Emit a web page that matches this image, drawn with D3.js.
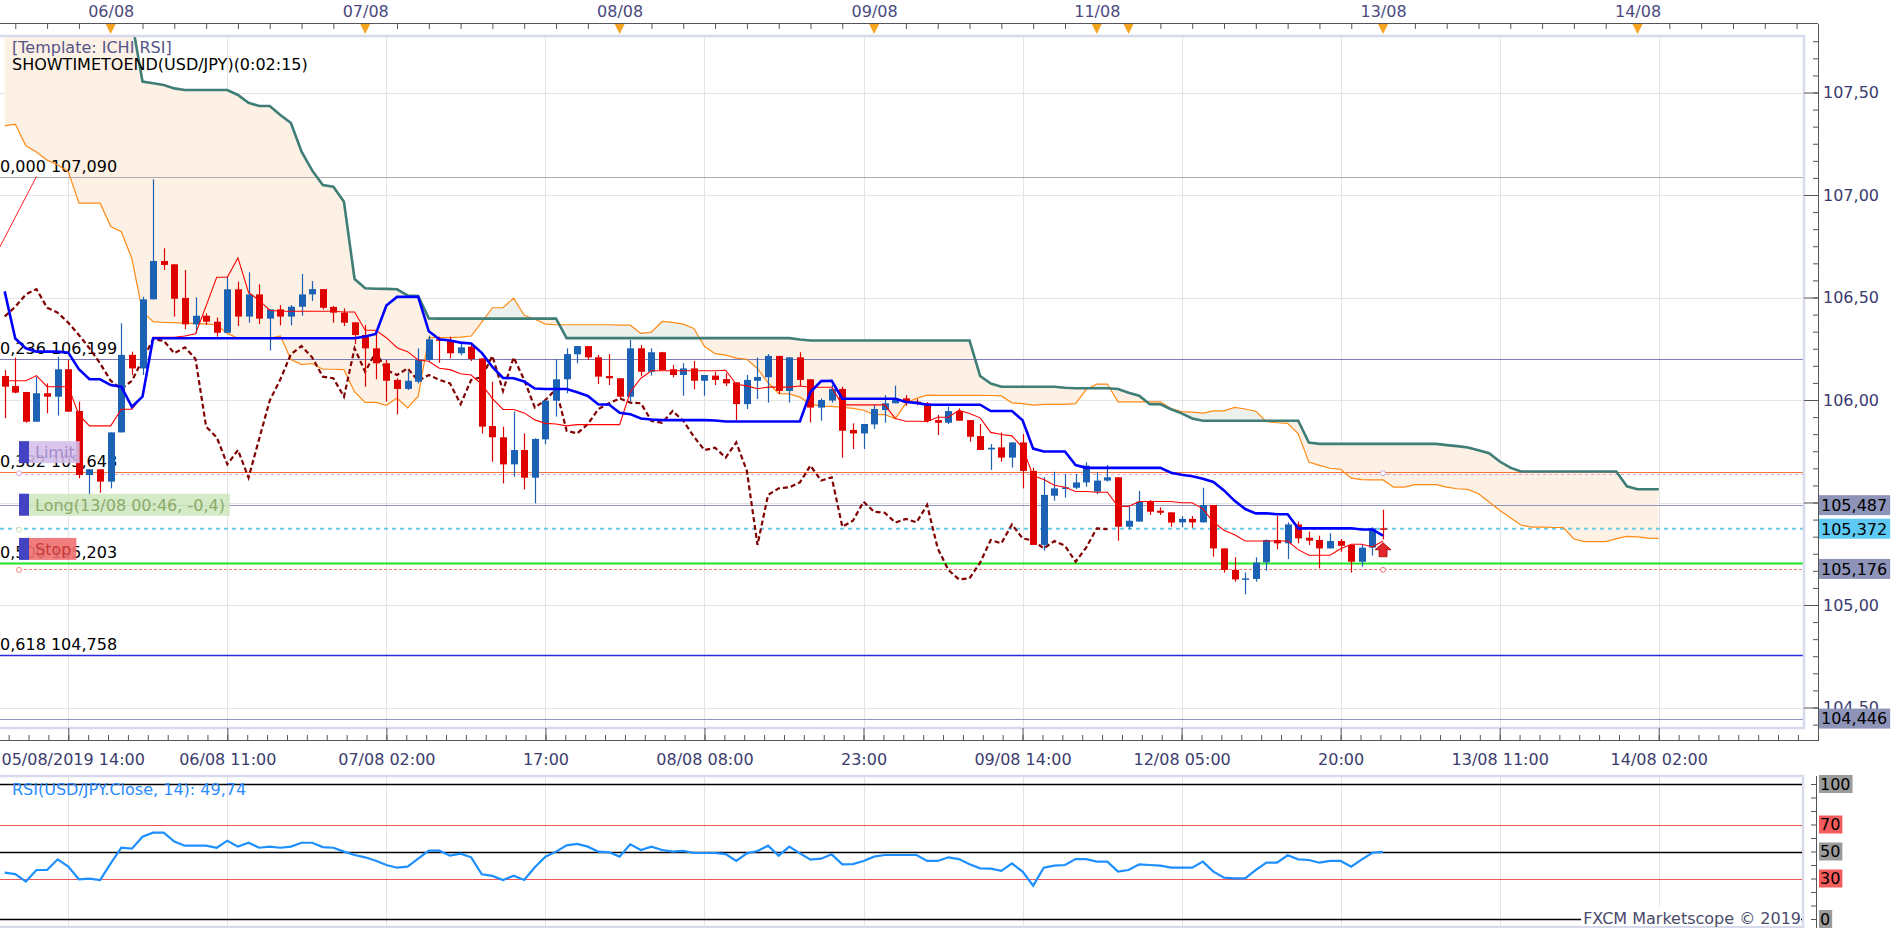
<!DOCTYPE html>
<html lang="en">
<head>
<meta charset="utf-8">
<title>USD/JPY - ICHI RSI</title>
<script src="https://cdn.jsdelivr.net/npm/d3@7/dist/d3.min.js"></script>
<style>
body { margin: 0; background: #fff; }
svg { display: block; font-family: "DejaVu Sans", Verdana, sans-serif; }
</style>
</head>
<body>
<div id="chart"></div>
<script>

// bar index 0 = 06/08 00:00, one bar per hour (weekend hours skipped)
var firstBar = -10;

var opens = [
106.117,106.068,106.039,105.894,106.033,106.016,106.150,105.946,105.634,105.662,
105.602,105.842,106.220,106.154,106.491,106.678,106.662,106.498,106.369,106.411,
106.382,106.328,106.540,106.407,106.515,106.397,106.442,106.407,106.455,106.515,
106.541,106.454,106.426,106.379,106.317,106.252,106.179,106.098,106.054,106.089,
106.195,106.296,106.289,106.228,106.260,106.203,105.873,105.818,105.686,105.756,
105.621,105.808,105.997,106.101,106.223,106.263,106.208,106.117,106.106,106.016,
106.252,106.138,106.233,106.150,106.122,106.154,106.094,106.119,106.102,106.086,
105.980,106.094,106.111,106.215,106.044,106.208,106.101,105.963,105.997,106.054,
105.854,105.837,105.881,105.951,105.984,106.008,105.992,105.984,105.902,105.889,
105.946,105.902,105.824,105.759,105.769,105.719,105.793,105.654,105.293,105.533,
105.566,105.572,105.598,105.553,105.607,105.623,105.382,105.407,105.504,105.460,
105.452,105.403,105.420,105.403,105.488,105.276,105.171,105.124,105.127,105.208,
105.317,105.301,105.393,105.328,105.317,105.276,105.312,105.293,105.211,105.280,
105.374];
var highs = [
106.146,106.207,106.040,106.114,106.081,106.211,106.195,105.992,105.662,105.662,
105.842,106.374,106.236,106.504,107.076,106.740,106.662,106.634,106.501,106.423,
106.402,106.605,106.577,106.623,106.564,106.442,106.463,106.463,106.615,106.580,
106.541,106.459,106.447,106.379,106.366,106.325,106.195,106.106,106.138,106.252,
106.314,106.309,106.309,106.276,106.270,106.203,106.089,105.870,105.943,105.837,
105.813,105.997,106.198,106.252,106.263,106.263,106.220,106.224,106.106,106.293,
106.268,106.252,106.235,106.171,106.179,106.190,106.122,106.138,106.130,106.086,
106.122,106.207,106.224,106.215,106.208,106.233,106.101,106.008,106.073,106.065,
105.886,105.883,105.976,106.024,106.070,106.024,106.005,105.990,105.927,105.967,
105.959,105.902,105.883,105.785,105.842,105.793,105.834,105.670,105.623,105.650,
105.639,105.639,105.696,105.647,105.683,105.623,105.480,105.556,105.512,105.476,
105.452,105.434,105.434,105.572,105.488,105.276,105.233,105.159,105.233,105.320,
105.434,105.403,105.407,105.358,105.338,105.350,105.322,105.293,105.293,105.379,
105.465];
var lows = [
105.911,106.033,105.890,105.894,105.935,105.924,105.943,105.618,105.537,105.548,
105.569,105.842,106.122,106.122,106.491,106.634,106.407,106.345,106.325,106.366,
106.309,106.328,106.361,106.377,106.371,106.242,106.364,106.364,106.411,106.483,
106.442,106.377,106.361,106.273,106.065,106.101,105.992,105.930,106.049,106.081,
106.187,106.182,106.203,106.218,106.190,105.837,105.699,105.593,105.626,105.564,
105.496,105.784,105.919,106.033,106.179,106.195,106.078,106.073,106.008,105.992,
106.117,106.119,106.146,106.111,106.021,106.052,106.021,106.073,106.068,105.902,
105.956,106.005,105.987,106.029,105.987,106.068,105.891,105.899,105.987,105.719,
105.761,105.761,105.859,105.889,105.984,105.972,105.975,105.890,105.829,105.883,
105.899,105.797,105.756,105.659,105.699,105.670,105.569,105.293,105.265,105.509,
105.524,105.566,105.577,105.541,105.602,105.314,105.369,105.407,105.439,105.439,
105.382,105.379,105.377,105.403,105.236,105.158,105.114,105.052,105.114,105.167,
105.272,105.224,105.301,105.293,105.179,105.276,105.260,105.158,105.187,105.241,
105.320];
var closes = [
106.065,106.036,105.894,106.033,106.016,106.150,105.943,105.634,105.662,105.602,
105.842,106.220,106.154,106.491,106.678,106.659,106.494,106.369,106.411,106.382,
106.328,106.540,106.407,106.515,106.397,106.442,106.407,106.455,106.515,106.541,
106.450,106.426,106.377,106.317,106.252,106.179,106.094,106.054,106.094,106.195,
106.296,106.289,106.228,106.257,106.200,105.870,105.818,105.686,105.756,105.621,
105.810,105.997,106.101,106.224,106.263,106.208,106.114,106.106,106.016,106.252,
106.138,106.233,106.146,106.122,106.154,106.094,106.122,106.098,106.081,105.980,
106.098,106.112,106.215,106.044,106.208,106.098,105.963,106.000,106.054,105.850,
105.837,105.883,105.956,105.984,106.008,105.987,105.984,105.898,105.889,105.946,
105.899,105.821,105.756,105.767,105.719,105.793,105.654,105.293,105.537,105.569,
105.574,105.598,105.680,105.607,105.623,105.382,105.411,105.504,105.455,105.450,
105.402,105.420,105.403,105.488,105.276,105.171,105.125,105.130,105.207,105.317,
105.301,105.393,105.325,105.314,105.276,105.312,105.289,105.211,105.280,105.374,
105.370];

var tenkan = [
106.094,106.094,106.094,106.119,106.065,106.065,106.065,105.927,105.874,105.874,
105.874,105.955,105.955,106.021,106.306,106.306,106.306,106.312,106.323,106.459,
106.599,106.599,106.693,106.525,106.486,106.438,106.433,106.433,106.433,106.433,
106.433,106.433,106.429,106.429,106.340,106.340,106.304,106.255,106.236,106.195,
106.189,106.155,106.148,106.128,106.122,106.076,106.007,105.954,105.954,105.937,
105.903,105.886,105.883,105.874,105.880,105.880,105.880,105.880,105.880,106.039,
106.106,106.143,106.143,106.143,106.143,106.143,106.143,106.143,106.145,106.077,
106.069,106.055,106.063,106.063,106.063,106.068,106.062,106.062,106.062,105.976,
105.976,105.976,105.976,105.976,105.910,105.896,105.896,105.895,105.916,105.916,
105.950,105.934,105.913,105.842,105.832,105.825,105.768,105.630,105.612,105.584,
105.574,105.554,105.554,105.550,105.550,105.481,105.481,105.505,105.505,105.505,
105.505,105.499,105.499,105.469,105.404,105.365,105.343,105.312,105.312,105.312,
105.312,105.312,105.270,105.243,105.243,105.243,105.274,105.296,105.296,105.283,
105.312];
var kijun = [
106.530,106.300,106.252,106.236,106.236,106.236,106.231,106.150,106.101,106.101,
106.073,106.065,105.967,106.016,106.301,106.301,106.301,106.301,106.301,106.301,
106.301,106.301,106.301,106.301,106.301,106.301,106.301,106.301,106.301,106.301,
106.301,106.301,106.301,106.301,106.310,106.322,106.461,106.503,106.503,106.503,
106.335,106.296,106.290,106.280,106.276,106.230,106.161,106.108,106.106,106.090,
106.056,106.054,106.054,106.054,106.038,106.020,105.978,105.978,105.938,105.931,
105.910,105.905,105.902,105.902,105.902,105.902,105.902,105.900,105.895,105.895,
105.895,105.895,105.895,105.895,105.895,105.895,106.039,106.092,106.094,106.006,
106.006,106.006,106.006,106.006,106.006,105.990,105.986,105.977,105.977,105.977,
105.977,105.977,105.977,105.946,105.946,105.946,105.901,105.763,105.749,105.749,
105.749,105.683,105.669,105.669,105.669,105.669,105.669,105.669,105.669,105.669,
105.645,105.635,105.628,105.616,105.600,105.559,105.508,105.468,105.447,105.447,
105.443,105.443,105.374,105.374,105.374,105.374,105.374,105.374,105.368,105.368,
105.338];

// leading spans, bars -10 .. 146
var senkouA = [
107.337,107.346,107.240,107.210,107.170,107.146,107.114,106.960,106.960,106.960,
106.846,106.821,106.690,106.430,106.382,106.378,106.377,106.375,106.373,106.371,
106.366,106.325,106.301,106.301,106.301,106.301,106.312,106.197,106.173,106.178,
106.150,106.150,106.148,106.039,105.988,105.988,105.974,106.010,105.961,106.019,
106.304,106.304,106.304,106.307,106.312,106.380,106.450,106.450,106.497,106.413,
106.394,106.370,106.367,106.367,106.367,106.367,106.367,106.367,106.365,106.365,
106.325,106.331,106.383,106.379,106.370,106.349,106.262,106.226,106.219,106.204,
106.199,106.153,106.084,106.031,106.030,106.014,105.980,105.970,105.969,105.964,
105.959,105.950,105.929,105.929,105.909,105.985,106.008,106.024,106.023,106.023,
106.023,106.023,106.023,106.022,106.020,105.986,105.982,105.975,105.979,105.979,
105.979,105.982,106.051,106.077,106.078,105.991,105.991,105.991,105.991,105.991,
105.958,105.943,105.941,105.936,105.947,105.947,105.964,105.956,105.945,105.894,
105.889,105.886,105.835,105.697,105.681,105.667,105.662,105.619,105.612,105.610,
105.610,105.575,105.575,105.587,105.587,105.587,105.575,105.567,105.564,105.543,
105.502,105.462,105.426,105.390,105.380,105.380,105.378,105.378,105.322,105.309,
105.309,105.309,105.324,105.335,105.332,105.326,105.325];
var senkouB = [
108.000,108.000,108.000,108.000,108.000,108.000,108.000,108.000,108.000,108.000,
108.000,107.950,107.850,107.553,107.545,107.537,107.520,107.512,107.512,107.512,
107.512,107.512,107.488,107.450,107.434,107.434,107.390,107.351,107.211,107.120,
107.049,107.040,106.967,106.590,106.545,106.543,106.542,106.540,106.510,106.507,
106.398,106.397,106.397,106.397,106.397,106.397,106.397,106.397,106.397,106.397,
106.397,106.397,106.397,106.302,106.302,106.302,106.302,106.302,106.302,106.302,
106.302,106.302,106.302,106.302,106.302,106.302,106.302,106.302,106.302,106.302,
106.302,106.302,106.302,106.302,106.302,106.295,106.290,106.290,106.290,106.290,
106.290,106.290,106.290,106.290,106.290,106.290,106.290,106.290,106.290,106.290,
106.290,106.290,106.117,106.080,106.065,106.065,106.065,106.065,106.065,106.065,
106.060,106.057,106.057,106.057,106.057,106.054,106.035,106.021,105.979,105.979,
105.955,105.935,105.910,105.899,105.899,105.899,105.899,105.899,105.899,105.899,
105.899,105.899,105.899,105.792,105.786,105.786,105.786,105.786,105.786,105.786,
105.786,105.786,105.786,105.786,105.786,105.786,105.780,105.775,105.768,105.755,
105.740,105.700,105.670,105.651,105.651,105.651,105.651,105.651,105.651,105.651,
105.651,105.651,105.651,105.579,105.565,105.565,105.565];
var chikouShift = 26;

var rsi = [
34.3,33.3,27.7,36.3,36.3,44.2,38.8,29.4,29.9,28.9,
41.2,52.8,52.1,61.0,64.0,64.0,57.3,54.3,54.3,54.3,
52.8,58.0,53.6,56.5,52.8,53.6,52.8,53.6,56.5,56.5,
53.3,52.8,49.9,47.4,45.7,43.2,40.0,38.0,38.8,44.7,
50.6,50.6,46.9,48.4,45.7,33.1,31.9,28.9,32.1,28.9,
38.3,46.2,49.9,54.6,55.6,53.6,49.9,49.4,46.2,55.3,
51.1,53.6,51.1,49.9,50.4,48.9,48.9,48.9,48.1,43.0,
48.6,50.4,54.3,46.9,53.6,48.6,44.0,44.7,47.9,40.5,
40.7,43.0,46.2,47.4,47.4,47.4,47.4,43.0,43.0,45.7,
44.4,40.5,37.5,37.3,35.6,41.2,35.1,24.7,38.0,39.5,
40.0,44.4,44.4,42.5,42.5,35.1,36.3,40.5,40.0,39.5,
38.0,38.0,38.0,42.5,35.1,30.6,30.1,30.1,36.3,41.7,
41.7,47.2,44.2,43.7,41.7,43.0,43.0,38.8,44.2,49.1,
49.74];

var timeTickBars = [-4, 11, 26, 41, 56, 71, 86, 101, 116, 131, 146];
var timeTickLabels = ["05/08/2019 14:00", "06/08 11:00", "07/08 02:00", "17:00", "08/08 08:00", "23:00",
                      "09/08 14:00", "12/08 05:00", "20:00", "13/08 11:00", "14/08 02:00"];
var dayBars = [0, 24, 48, 72, 93, 120, 144];
var dayLabels = ["06/08", "07/08", "08/08", "09/08", "11/08", "13/08", "14/08"];
var dayMarkerBars = [0, 24, 48, 72, 93, 96, 120, 144];
var priceTicks = [104.5, 105.0, 105.5, 106.0, 106.5, 107.0, 107.5];
var hiddenPriceLabels = [105.5];   // covered by the 105,487 marker

var fibRatios = ["0,000", "0,236", "0,382", "0,500", "0,618"];
var fibPrices = [107.090, 106.199, 105.648, 105.203, 104.758];
var fibAnchorBars = [-45, -7];
var fibAnchorPrices = [103.315, 107.090];

var limitPrice = 105.648, ratePrice = 105.487, entryPrice = 105.372, stopPrice = 105.176, lowPrice = 104.446;
var entryBar = 120;
var axisMarkPrices = [105.487, 105.372, 105.176, 104.446];
var orderLabels = ["Limit", "Long(13/08 00:46, -0,4)", "Stop"];
var orderPrices = [limitPrice, entryPrice, stopPrice];
var rsiLevels = [100, 70, 50, 30, 0];
var rsiValueLabel = "49,74";

// ---------------------------------------------------------------
var W = 1898, H = 928;
var plotTop = 36, plotBottom = 728, plotRight = 1804, axisX = 1818;
var rsiTop = 776, rsiBottom = 927, rsiAxisX = 1816;

var svg = d3.select("#chart").append("svg").attr("width", W).attr("height", H);
var defs = svg.append("defs");

var x = d3.scaleLinear().domain([0, 146]).range([110.7, 110.7 + 146 * 10.603]);
var y = d3.scaleLinear().domain([104.5, 107.5]).range([707.5, 92.5]);
var yr = d3.scaleLinear().domain([0, 100]).range([919, 784]);

var fmt2 = function(d) { return d3.format(".2f")(d).replace(".", ","); };
var fmt3 = function(d) { return d3.format(".3f")(d).replace(".", ","); };
var crisp = function(v) { return Math.round(v) + 0.5; };

var bars = d3.range(firstBar, firstBar + opens.length);
var candles = bars.map(function(b, k) { return {b: b, o: opens[k], h: highs[k], l: lows[k], c: closes[k]}; });
var spanBars = d3.range(firstBar, firstBar + senkouA.length);
var cloud = spanBars.map(function(b, k) { return {b: b, a: senkouA[k], s: senkouB[k]}; });

defs.append("clipPath").attr("id", "clipMain").append("rect")
  .attr("x", 0).attr("y", plotTop + 1).attr("width", plotRight - 1).attr("height", plotBottom - plotTop - 2);
defs.append("clipPath").attr("id", "clipRsi").append("rect")
  .attr("x", 0).attr("y", rsiTop + 1).attr("width", plotRight - 2).attr("height", rsiBottom - rsiTop - 2);
defs.append("clipPath").attr("id", "aboveA").append("path")
  .attr("d", d3.area().x(function(d) { return x(d.b); }).y0(0).y1(function(d) { return y(d.a); })(cloud));
defs.append("clipPath").attr("id", "belowA").append("path")
  .attr("d", d3.area().x(function(d) { return x(d.b); }).y0(H).y1(function(d) { return y(d.a); })(cloud));

// grid
var grid = svg.append("g").attr("stroke", "#e4e4e4").attr("stroke-width", 1);
grid.selectAll("line.h").data(priceTicks.filter(function(p) { return y(p) > plotTop && y(p) < plotBottom; }))
  .join("line").attr("class", "h")
  .attr("x1", 0).attr("x2", plotRight - 1)
  .attr("y1", function(d) { return crisp(y(d)); }).attr("y2", function(d) { return crisp(y(d)); });
grid.selectAll("line.v").data(timeTickBars).join("line").attr("class", "v")
  .attr("x1", function(d) { return crisp(x(d)); }).attr("x2", function(d) { return crisp(x(d)); })
  .attr("y1", plotTop).attr("y2", plotBottom);
grid.selectAll("line.vr").data(timeTickBars).join("line").attr("class", "vr")
  .attr("x1", function(d) { return crisp(x(d)); }).attr("x2", function(d) { return crisp(x(d)); })
  .attr("y1", rsiTop).attr("y2", rsiBottom);

var main = svg.append("g").attr("clip-path", "url(#clipMain)");

// kumo
var between = d3.area().x(function(d) { return x(d.b); })
  .y0(function(d) { return y(d.a); }).y1(function(d) { return y(d.s); });
main.append("g").attr("clip-path", "url(#aboveA)").append("path")
  .attr("d", between(cloud)).attr("fill", "#fdf0e4");
main.append("g").attr("clip-path", "url(#belowA)").append("path")
  .attr("d", between(cloud)).attr("fill", "#ecf1ee");

// fibonacci levels and order lines
var fibColors = ["#ababab", "#7d7db6", "#f4733a", "#22e322", "#2a2ae2"];
var fibWidths = [1, 1, 1, 2, 1.3];
main.selectAll("line.fib").data(fibPrices).join("line").attr("class", "fib")
  .attr("x1", 0).attr("x2", plotRight)
  .attr("y1", function(d) { return crisp(y(d)); }).attr("y2", function(d) { return crisp(y(d)); })
  .attr("stroke", function(d, k) { return fibColors[k]; })
  .attr("stroke-width", function(d, k) { return fibWidths[k]; });

main.append("line").attr("x1", 19).attr("x2", plotRight)
  .attr("y1", crisp(y(limitPrice)) + 2).attr("y2", crisp(y(limitPrice)) + 2)
  .attr("stroke", "#e0a6d6").attr("stroke-dasharray", "3,3");
main.append("line").attr("x1", 0).attr("x2", plotRight)
  .attr("y1", crisp(y(ratePrice))).attr("y2", crisp(y(ratePrice)))
  .attr("stroke", "#9197c4");
main.append("line").attr("x1", 0).attr("x2", plotRight)
  .attr("y1", y(entryPrice)).attr("y2", y(entryPrice))
  .attr("stroke", "#6ccbea").attr("stroke-width", 2).attr("stroke-dasharray", "4,4");
main.append("line").attr("x1", 19).attr("x2", plotRight)
  .attr("y1", crisp(y(stopPrice))).attr("y2", crisp(y(stopPrice)))
  .attr("stroke", "#f07a7a").attr("stroke-dasharray", "3,2");
main.append("line").attr("x1", 0).attr("x2", plotRight)
  .attr("y1", crisp(y(lowPrice))).attr("y2", crisp(y(lowPrice)))
  .attr("stroke", "#8e94c0");

// fib trend line
main.append("line")
  .attr("x1", x(fibAnchorBars[0])).attr("y1", y(fibAnchorPrices[0]))
  .attr("x2", x(fibAnchorBars[1])).attr("y2", y(fibAnchorPrices[1]))
  .attr("stroke", "#ff2020").attr("stroke-width", 1);

main.selectAll("text.fib").data(fibPrices).join("text").attr("class", "fib")
  .attr("x", 0).attr("y", function(d) { return y(d) - 5; })
  .attr("font-size", 16).attr("fill", "#000")
  .text(function(d, k) { return fibRatios[k] + " " + fmt3(d); });

// ichimoku spans + chikou
var lineOf = function(sc) {
  return d3.line().x(function(d) { return x(d.b); }).y(function(d) { return sc(d.v); });
};
main.append("path").datum(cloud.map(function(d) { return {b: d.b, v: d.a}; }))
  .attr("d", lineOf(y)).attr("fill", "none").attr("stroke", "#ff8a14").attr("stroke-width", 1.2);
main.append("path").datum(cloud.map(function(d) { return {b: d.b, v: d.s}; }))
  .attr("d", lineOf(y)).attr("fill", "none").attr("stroke", "#3f7d77").attr("stroke-width", 2.6);

var chikou = bars.filter(function(b) { return b + chikouShift - firstBar < closes.length; })
  .map(function(b) { return {b: b, v: closes[b + chikouShift - firstBar]}; });
main.append("path").datum(chikou)
  .attr("d", lineOf(y)).attr("fill", "none").attr("stroke", "#800000")
  .attr("stroke-width", 2.2).attr("stroke-dasharray", "5,3");

// candles
var cg = main.append("g");
var col = function(d) { return d.c >= d.o ? "#1c62b4" : "#df0000"; };
cg.selectAll("line.wick").data(candles).join("line").attr("class", "wick")
  .attr("x1", function(d) { return crisp(x(d.b)); }).attr("x2", function(d) { return crisp(x(d.b)); })
  .attr("y1", function(d) { return y(d.h); }).attr("y2", function(d) { return y(d.l); })
  .attr("stroke", col).attr("stroke-width", 1.2);
cg.selectAll("rect.body").data(candles).join("rect").attr("class", "body")
  .attr("x", function(d) { return Math.round(x(d.b)) - 3; }).attr("width", 7)
  .attr("y", function(d) { return y(Math.max(d.o, d.c)); })
  .attr("height", function(d) { return Math.max(1.5, Math.abs(y(d.o) - y(d.c))); })
  .attr("fill", col);

// tenkan / kijun
var tk = bars.map(function(b, k) { return {b: b, v: tenkan[k]}; });
var kj = bars.map(function(b, k) { return {b: b, v: kijun[k]}; });
main.append("path").datum(tk).attr("d", lineOf(y)).attr("fill", "none")
  .attr("stroke", "#ff0000").attr("stroke-width", 1.1);
main.append("path").datum(kj).attr("d", lineOf(y)).attr("fill", "none")
  .attr("stroke", "#0000ff").attr("stroke-width", 2.6);

// order markers
var ex = x(entryBar), ey = y(entryPrice) + 14;
main.append("path")
  .attr("d", "M" + ex + "," + ey + " L" + (ex + 8) + "," + (ey + 7) + " L" + (ex + 4) + "," + (ey + 7) +
             " L" + (ex + 4) + "," + (ey + 14) + " L" + (ex - 4) + "," + (ey + 14) + " L" + (ex - 4) + "," + (ey + 7) +
             " L" + (ex - 8) + "," + (ey + 7) + " Z")
  .attr("fill", "#e3262a").attr("stroke", "#9a0c0c").attr("stroke-width", 0.8);
var dots = [[19, limitPrice, "#d8a8e0"], [19, stopPrice, "#f08888"], [19, entryPrice, "#c8e0b0"],
            [ex, limitPrice, "#c8a8dc"], [ex, stopPrice, "#f07878"]];
main.selectAll("circle.dot").data(dots).join("circle").attr("class", "dot")
  .attr("cx", function(d) { return d[0]; }).attr("cy", function(d) { return y(d[1]) + 1; })
  .attr("r", 2.5).attr("fill", "#fff").attr("stroke", function(d) { return d[2]; });

// order boxes
var boxFill = ["rgba(212,190,234,0.88)", "rgba(206,230,188,0.85)", "rgba(240,112,112,0.9)"];
var boxText = ["#a58acb", "#8aab6a", "#c83a3a"];
var boxOffset = [9, 13, 9];
orderLabels.forEach(function(lbl, k) {
  var bottom = y(orderPrices[k]) - boxOffset[k];
  var g = main.append("g");
  var bg = g.append("rect").attr("x", 29).attr("y", bottom - 22).attr("height", 22).attr("fill", boxFill[k]);
  var t = g.append("text").attr("x", 35).attr("y", bottom - 5).attr("font-size", 16)
    .attr("fill", boxText[k]).text(lbl);
  bg.attr("width", t.node().getComputedTextLength() + 11);
  g.append("rect").attr("x", 19).attr("y", bottom - 22).attr("width", 10).attr("height", 22).attr("fill", "#4343c4");
});

// panel frames
svg.append("rect").attr("x", -2).attr("y", plotTop).attr("width", plotRight + 2).attr("height", plotBottom - plotTop)
  .attr("fill", "none").attr("stroke", "#d6daea").attr("stroke-width", 2.5);
svg.append("rect").attr("x", -2).attr("y", rsiTop).attr("width", plotRight + 1).attr("height", rsiBottom - rsiTop)
  .attr("fill", "none").attr("stroke", "#d6daea").attr("stroke-width", 2.5);

// top legend text
svg.append("text").attr("x", 12).attr("y", 53).attr("font-size", 16).attr("fill", "#55558a").text("[Template: ICHI RSI]");
svg.append("text").attr("x", 12).attr("y", 70).attr("font-size", 16).attr("fill", "#000").text("SHOWTIMETOEND(USD/JPY)(0:02:15)");

// ---- axes ----
var styleAxis = function(g, color) {
  g.select(".domain").remove();
  g.selectAll(".tick line").attr("stroke", "#555");
  g.selectAll(".tick text").attr("fill", color).attr("font-size", 16).attr("font-family", "DejaVu Sans, Verdana, sans-serif");
};

// top date axis
svg.append("line").attr("x1", 0).attr("x2", axisX).attr("y1", 23.5).attr("y2", 23.5).attr("stroke", "#555");
var topMinor = d3.range(-9, 160, 3).filter(function(b) { return x(b) > 0 && x(b) < axisX; });
svg.append("g").attr("transform", "translate(0,24)")
  .call(d3.axisTop(x).tickValues(topMinor).tickSizeInner(-5).tickSizeOuter(0).tickFormat(""))
  .call(function(g) { styleAxis(g, "#4a4a80"); });
svg.append("g").attr("transform", "translate(0,24)")
  .call(d3.axisTop(x).tickValues(dayBars).tickSize(0).tickPadding(7)
    .tickFormat(function(d, k) { return dayLabels[k]; }))
  .call(function(g) { styleAxis(g, "#4a4a80"); });
svg.append("g").selectAll("path.mark").data(dayMarkerBars).join("path").attr("class", "mark")
  .attr("d", function(d) { var cx = x(d); return "M" + (cx - 5) + ",24 L" + (cx + 5) + ",24 L" + cx + ",34 Z"; })
  .attr("fill", "#f5a422");

// bottom time axis
svg.append("line").attr("x1", 0).attr("x2", axisX).attr("y1", 740.5).attr("y2", 740.5).attr("stroke", "#555");
var botMinor = d3.range(-4 - 1.875 * 8, 170, 1.875).filter(function(b) { return x(b) > 0 && x(b) < axisX - 6; });
svg.append("g").attr("transform", "translate(0,740)")
  .call(d3.axisBottom(x).tickValues(botMinor).tickSizeInner(-5).tickSizeOuter(0).tickFormat(""))
  .call(function(g) { styleAxis(g, "#3c3c6e"); });
svg.append("g").attr("transform", "translate(0,740)")
  .call(d3.axisBottom(x).tickValues(timeTickBars).tickSizeInner(-12).tickSizeOuter(0).tickPadding(14)
    .tickFormat(function(d, k) { return timeTickLabels[k]; }))
  .call(function(g) {
    styleAxis(g, "#3c3c6e");
    // first label sits flush with the left edge
    g.selectAll(".tick text").filter(function(d) { return x(d) < 100; })
      .attr("text-anchor", "start").attr("x", function(d) { return 1 - x(d); });
  });

// price axis
svg.append("line").attr("x1", axisX + 0.5).attr("x2", axisX + 0.5).attr("y1", 24).attr("y2", 741).attr("stroke", "#555");
var priceMinor = d3.range(104.5 - 5 / 12, 107.76, 1 / 12).filter(function(p) { return y(p) > plotTop && y(p) < plotBottom; });
svg.append("g").attr("transform", "translate(" + axisX + ",0)")
  .call(d3.axisRight(y).tickValues(priceMinor).tickSizeInner(-5).tickSizeOuter(0).tickFormat(""))
  .call(function(g) { styleAxis(g, "#3a3a70"); });
svg.append("g").attr("transform", "translate(" + axisX + ",0)")
  .call(d3.axisRight(y).tickValues(priceTicks).tickSizeInner(-14).tickSizeOuter(0).tickPadding(5)
    .tickFormat(function(d) { return hiddenPriceLabels.indexOf(d) >= 0 ? "" : fmt2(d); }))
  .call(function(g) { styleAxis(g, "#3a3a70"); });

var markFill = ["#8e93b8", "#5ec9f3", "#8e93b8", "#8e93b8"];
axisMarkPrices.forEach(function(p, k) {
  var g = svg.append("g");
  var bg = g.append("rect").attr("x", axisX + 1).attr("y", y(p) - 10).attr("height", 20).attr("fill", markFill[k]);
  var t = g.append("text").attr("x", axisX + 3).attr("y", y(p)).attr("dy", "0.36em")
    .attr("font-size", 16).attr("fill", "#000").text(fmt3(p));
  bg.attr("width", t.node().getComputedTextLength() + 5);
});

// ---- RSI panel ----
var rsiG = svg.append("g").attr("clip-path", "url(#clipRsi)");
var levelColor = function(v) { return (v === 70 || v === 30) ? "#f05555" : "#000"; };
rsiG.selectAll("line.lvl").data(rsiLevels).join("line").attr("class", "lvl")
  .attr("x1", 0).attr("x2", plotRight)
  .attr("y1", function(d) { return crisp(yr(d)); }).attr("y2", function(d) { return crisp(yr(d)); })
  .attr("stroke", levelColor).attr("stroke-width", function(d) { return levelColor(d) === "#000" ? 1.3 : 1; });
rsiG.append("path").datum(bars.map(function(b, k) { return {b: b, v: rsi[k]}; }))
  .attr("d", lineOf(yr)).attr("fill", "none").attr("stroke", "#1e8fff").attr("stroke-width", 2.2);

svg.append("text").attr("x", 12).attr("y", 795).attr("font-size", 16).attr("fill", "#2a8cff")
  .text("RSI(USD/JPY.Close, 14): " + rsiValueLabel);

var credit = svg.append("g");
var cbg = credit.append("rect").attr("y", 907).attr("height", 19).attr("fill", "#fff");
var ct = credit.append("text").attr("x", 1801).attr("y", 924).attr("text-anchor", "end")
  .attr("font-size", 16).attr("fill", "#4a4a6a").text("FXCM Marketscope \u00A9 2019");
var cw = ct.node().getComputedTextLength();
cbg.attr("x", 1801 - cw - 2).attr("width", cw + 2);

svg.append("line").attr("x1", rsiAxisX + 0.5).attr("x2", rsiAxisX + 0.5).attr("y1", rsiTop).attr("y2", H).attr("stroke", "#555");
svg.append("g").attr("transform", "translate(" + rsiAxisX + ",0)")
  .call(d3.axisRight(yr).tickValues(d3.range(0, 101, 10)).tickSizeInner(-5).tickSizeOuter(0).tickFormat(""))
  .call(function(g) { styleAxis(g, "#000"); });
var rsiBox = function(v) { return (v === 70 || v === 30) ? "#f35c5c" : "#9b9b9b"; };
rsiLevels.forEach(function(v) {
  var g = svg.append("g");
  var bg = g.append("rect").attr("x", rsiAxisX + 3).attr("y", yr(v) - 9).attr("height", 18).attr("fill", rsiBox(v));
  var t = g.append("text").attr("x", rsiAxisX + 4).attr("y", yr(v)).attr("dy", "0.36em")
    .attr("font-size", 16).attr("fill", "#000").text(v);
  bg.attr("width", t.node().getComputedTextLength() + 3);
});

</script>
</body>
</html>
